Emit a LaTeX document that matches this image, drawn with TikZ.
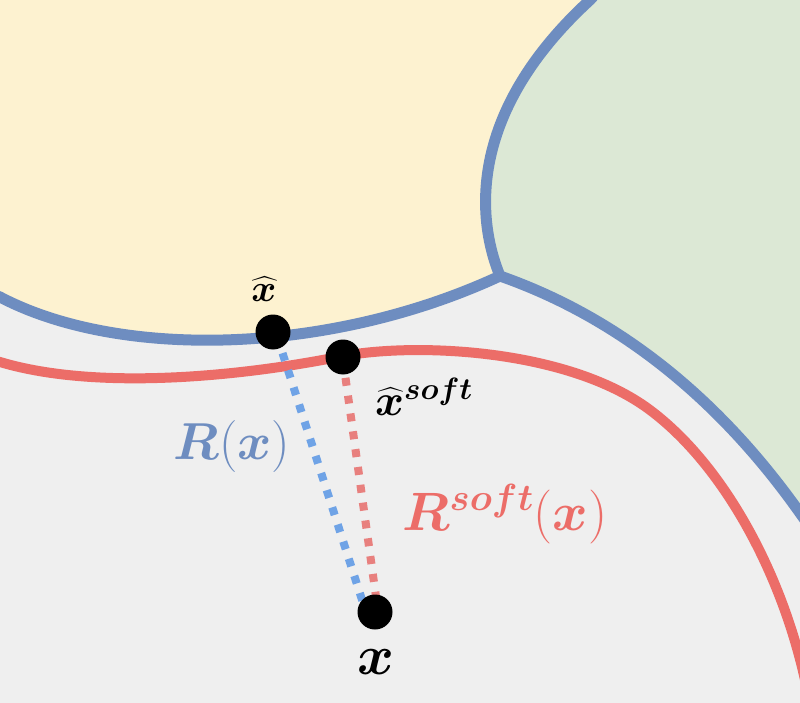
\RequirePackage{fix-cm}
\documentclass[tikz,border=0pt]{standalone}
\usepackage{amsmath,bm}
\definecolor{bgray}{HTML}{EFEFEF}
\definecolor{yel}{HTML}{FDF2D0}
\definecolor{grn}{HTML}{DCE8D5}
\definecolor{bline}{HTML}{6E8DC0}
\definecolor{rline}{HTML}{EC6D68}
\definecolor{bdot}{HTML}{6FA3E6}
\definecolor{rdot}{HTML}{E8807E}
\tikzset{
  bound/.style={draw=bline, line width=11pt, line join=round},
  softline/.style={draw=rline, line width=10pt},
  ptnode/.style={circle, fill=black, minimum size=35pt, inner sep=0pt},
  dotl/.style={line width=8pt, dash pattern=on 8pt off 10pt},
  lab/.style={inner sep=0pt}
}
\begin{document}
\begin{tikzpicture}[x=1pt,y=-1pt]
\useasboundingbox (0,0) rectangle (800,703);
\fill[bgray] (0,0) rectangle (800,703);
\coordinate (jn) at (500,276);
\coordinate (lft) at (0,297);
\coordinate (top) at (590,0);
\coordinate (rgt) at (800,513);
% yellow region
\fill[yel] (0,0) -- (lft) .. controls (120,360) and (330,355) .. (jn)
  .. controls (475,215) and (470,110) .. (top) -- cycle;
% green region
\fill[grn] (top) .. controls (470,110) and (475,215) .. (jn)
  .. controls (620,318) and (720,400) .. (rgt) -- (820,541) -- (820,0) -- cycle;
% blue boundaries
\draw[bound] (-20,289) -- (lft) .. controls (120,360) and (330,355) .. (jn);
\draw[bound] (jn) .. controls (475,215) and (470,110) .. (top) -- (600,-11);
\draw[bound] (jn) .. controls (620,318) and (720,400) .. (rgt) -- (820,541);
% soft boundary
\coordinate (sl) at (0,362);
\coordinate (sm) at (650,410);
\draw[softline] (-20,357) -- (sl) .. controls (100,392) and (250,375) .. (343,356)
  .. controls (420,342) and (570,350) .. (sm)
  .. controls (730,470) and (790,590) .. (810,705);
% points
\coordinate (bend) at (364,606);
\coordinate (rend) at (377,604);
\draw[dotl, draw=bdot] (277,336) -- (bend);
\draw[dotl, draw=rdot] (343,360) -- (rend);
\node[ptnode] (xh) at (273,332) {};
\node[ptnode] (xs) at (343,357) {};
\node[ptnode] (xp) at (375,612) {};
% labels
\node[lab] (lxh) at (264,289) {\fontsize{38}{42}\selectfont$\widehat{\bm{x}}$};
\node[lab, anchor=west] (lxs) at (375,397) {\fontsize{44}{48}\selectfont$\widehat{\bm{x}}^{\bm{soft}}$};
\node[lab] (lx) at (376,662) {\fontsize{56}{60}\selectfont$\bm{x}$};
\node[lab, text=bline] (lr) at (232,446) {\fontsize{52}{56}\selectfont$\bm{R}(\bm{x})$};
\node[lab, text=rline] (lrs) at (505,514) {\fontsize{54}{58}\selectfont$\bm{R}^{\bm{soft}}(\bm{x})$};
\end{tikzpicture}
\end{document}
